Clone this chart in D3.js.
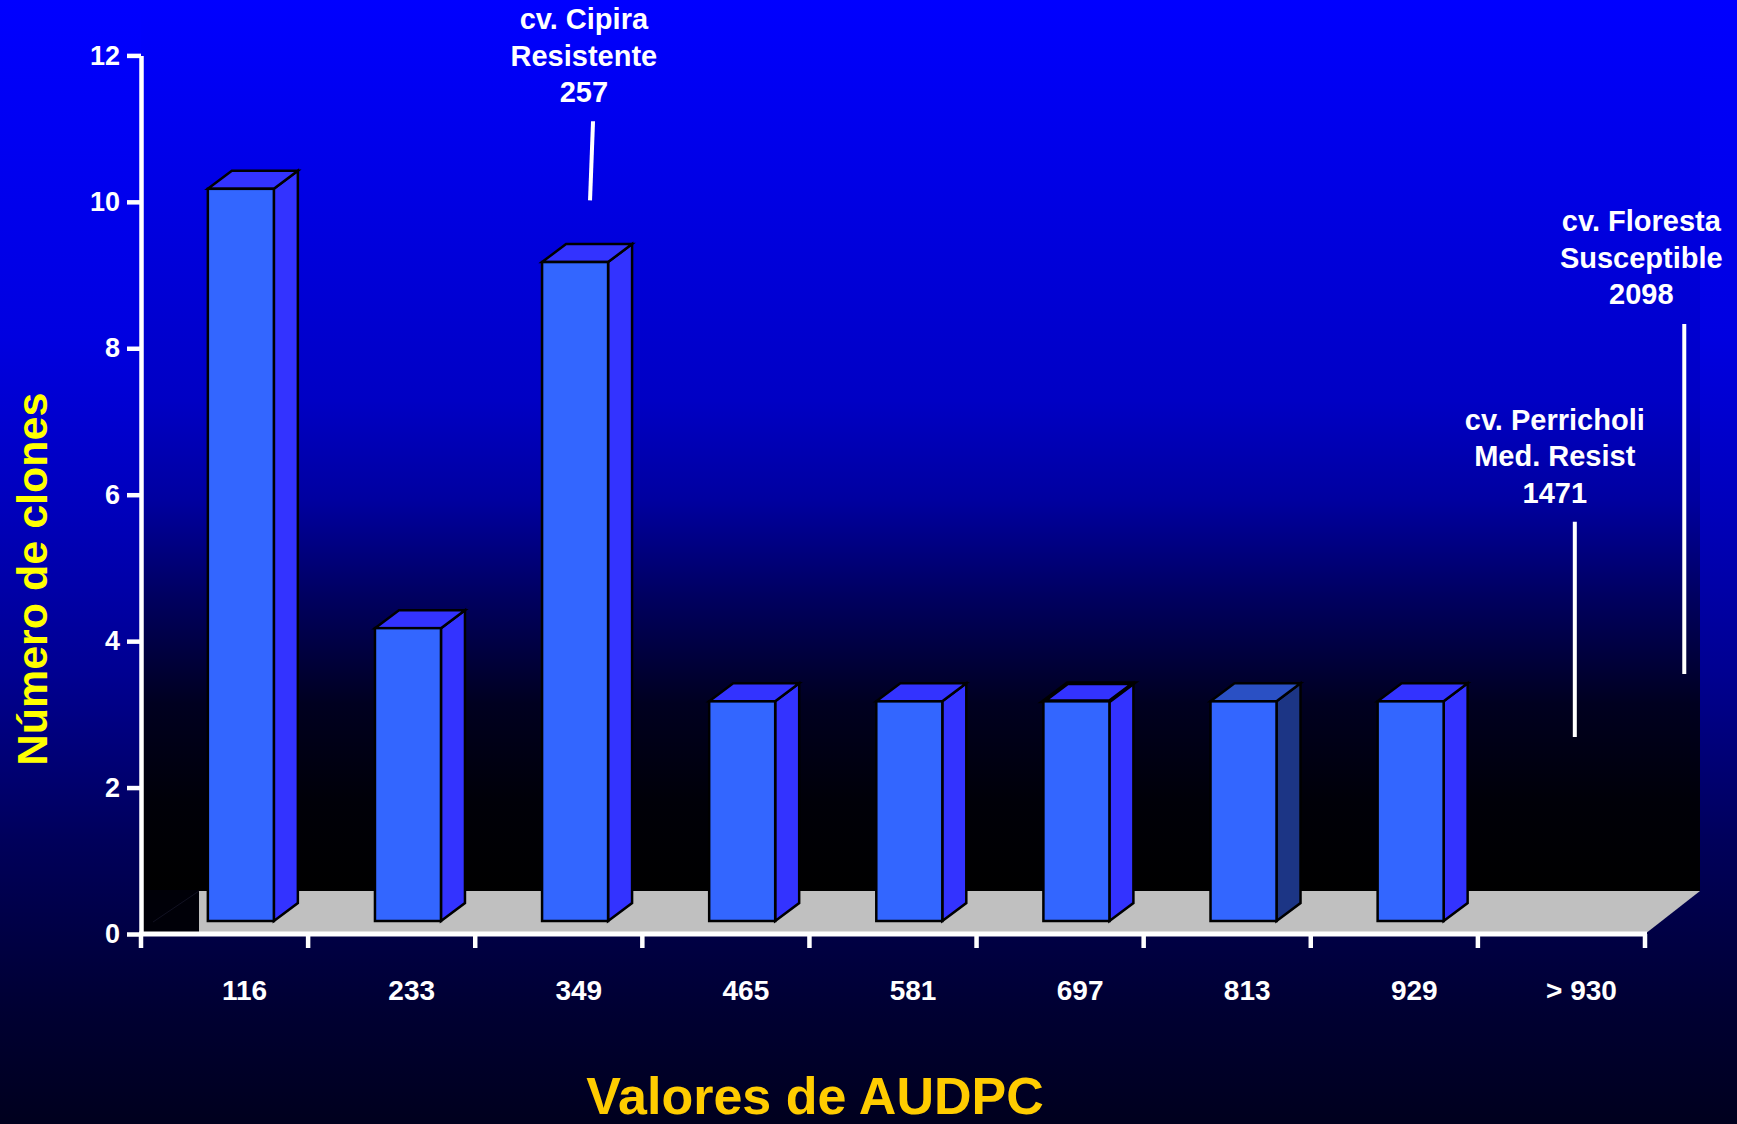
<!DOCTYPE html>
<html>
<head>
<meta charset="utf-8">
<script src="https://cdn.jsdelivr.net/npm/d3@7"></script>
<style>
  html, body { margin: 0; padding: 0; background: #000030; }
  svg { display: block; }
  text { font-family: "Liberation Sans", Arial, sans-serif; font-weight: bold; }
</style>
</head>
<body>
<svg id="chart" width="1737" height="1124"></svg>
<script>
// ---- data ----
const categories = ["116", "233", "349", "465", "581", "697", "813", "929", "> 930"];
const clones = [10, 4, 9, 3, 3, 3, 3, 3, 0];
const yTicks = [0, 2, 4, 6, 8, 10, 12];
const yTitle = "Número de clones";
const xTitle = "Valores de AUDPC";
// annotations: anchored on a category band (fraction of band) and value units
const annotLines = [
  ["cv. Cipira", "Resistente", "257"],
  ["cv. Perricholi", "Med. Resist", "1471"],
  ["cv. Floresta", "Susceptible", "2098"]
];
const annotCat = ["349", "> 930", "> 930"];
const annotTextFrac = [0.65, 0.46, 0.978];
const annotTextVal = [11.36, 5.89, 8.60];
const annotLineFracTop = [0.705, 0.58, 1.235];
const annotLineFracBot = [0.687, 0.58, 1.235];
const annotLineTop = [11.10, 5.63, 8.33];
const annotLineBot = [10.02, 2.69, 3.55];

// ---- layout ----
const W = 1737, H = 1124;
const svg = d3.select("#chart");
const x = d3.scaleBand().domain(categories).range([141, 1645]).paddingInner(0).paddingOuter(0);
const y = d3.scaleLinear().domain([0, 12]).range([934, 55.4]);
const bw = x.step();
const depthX = 24, depthY = -18;           // bar depth
const floorDX = 55, floorDY = -43;          // floor depth
const barLift = 13;                          // bars sit on floor, slightly behind axis

const defs = svg.append("defs");
const bg = defs.append("linearGradient").attr("id", "bg")
  .attr("gradientUnits", "userSpaceOnUse").attr("x1", 0).attr("y1", 0).attr("x2", 0).attr("y2", H);
[[0, "#0000ff"], [0.3, "#0000e0"], [0.45, "#0000bc"], [0.6, "#000090"], [0.75, "#00005a"], [0.9, "#000032"], [1, "#00001e"]]
  .forEach(s => bg.append("stop").attr("offset", s[0]).attr("stop-color", s[1]));
const wall = defs.append("linearGradient").attr("id", "wall")
  .attr("gradientUnits", "userSpaceOnUse").attr("x1", 0).attr("y1", 0).attr("x2", 0).attr("y2", y(0) + floorDY);
[[0, "#0000ff"], [0.2, "#0000e6"], [0.45, "#0000c4"], [0.56, "#0000a0"], [0.67, "#000060"], [0.79, "#000020"], [0.9, "#000008"], [1, "#000000"]]
  .forEach(s => wall.append("stop").attr("offset", s[0]).attr("stop-color", s[1]));

// background
svg.append("rect").attr("width", W).attr("height", H).attr("fill", "url(#bg)");

const x0 = x.range()[0], x1 = x.range()[1];
const floorBack = y(0) + floorDY;
const floorLeft = x0 + 58;

// back wall
svg.append("rect").attr("x", x0).attr("y", 0)
  .attr("width", x1 + floorDX - x0).attr("height", floorBack).attr("fill", "url(#wall)");
// dark left strip below the floor's back edge
svg.append("rect").attr("x", x0).attr("y", floorBack - 1)
  .attr("width", floorLeft - x0).attr("height", y(0) - floorBack + 1).attr("fill", "#000008");
svg.append("line").attr("x1", x0 + 12).attr("y1", y(0) - 12).attr("x2", floorLeft).attr("y2", floorBack)
  .attr("stroke", "#111122").attr("stroke-width", 1);

// floor
svg.append("path")
  .attr("d", `M${floorLeft},${floorBack} L${x1 + floorDX},${floorBack} L${x1},${y(0)} L${floorLeft},${y(0)} Z`)
  .attr("fill", "#c0c0c0");

// bars
const bars = svg.append("g");
categories.forEach((c, i) => {
  const v = clones[i];
  if (!v) return;
  const bx0 = x(c) + 0.40 * bw, bx1 = bx0 + 0.395 * bw;
  const yt = y(v) - barLift, yb = y(0) - barLift;
  const alt = i === 6;
  const g = bars.append("g").attr("stroke", "#000").attr("stroke-width", 2.5).attr("stroke-linejoin", "miter");
  g.append("path")
    .attr("d", `M${bx1},${yt} L${bx1 + depthX},${yt + depthY} L${bx1 + depthX},${yb + depthY} L${bx1},${yb} Z`)
    .attr("fill", alt ? "#1c3585" : "#3333ff");
  g.append("path")
    .attr("d", `M${bx0},${yt} L${bx0 + depthX},${yt + depthY} L${bx1 + depthX},${yt + depthY} L${bx1},${yt} Z`)
    .attr("fill", alt ? "#2a50c4" : "#3333ff")
    .attr("stroke-width", i === 5 ? 4 : 2.5);
  g.append("rect").attr("x", bx0).attr("y", yt).attr("width", bx1 - bx0).attr("height", yb - yt)
    .attr("fill", "#3366ff");
});

// y axis
const yAxis = svg.append("g").attr("transform", `translate(${x0},0)`)
  .call(d3.axisLeft(y).tickValues(yTicks).tickFormat(d3.format("d")).tickSize(14).tickSizeOuter(0).tickPadding(7));
yAxis.select(".domain").attr("stroke", "#fff").attr("stroke-width", 4.5);
yAxis.selectAll(".tick line").attr("stroke", "#fff").attr("stroke-width", 4.5);
yAxis.selectAll(".tick text").attr("fill", "#fff").style("font-size", "27px")
  .style("font-family", '"Liberation Sans", Arial, sans-serif').style("font-weight", "bold");

// x axis line + boundary ticks
svg.append("line").attr("x1", x0 - 2).attr("x2", x1 + 2).attr("y1", y(0)).attr("y2", y(0))
  .attr("stroke", "#fff").attr("stroke-width", 5);
svg.append("g").selectAll("line").data(d3.range(categories.length + 1)).join("line")
  .attr("x1", i => x0 + i * bw).attr("x2", i => x0 + i * bw)
  .attr("y1", y(0)).attr("y2", y(0) + 14)
  .attr("stroke", "#fff").attr("stroke-width", 4.5);

// x tick labels
const xAxis = svg.append("g").attr("transform", `translate(0,${y(0)})`)
  .call(d3.axisBottom(x).tickSize(0).tickPadding(46));
xAxis.select(".domain").remove();
xAxis.selectAll(".tick text").attr("fill", "#fff").attr("dx", 20).attr("dy", 0)
  .style("font-size", "28px").style("font-family", '"Liberation Sans", Arial, sans-serif').style("font-weight", "bold")
  .attr("y", 66);

// annotations
const ann = svg.append("g");
annotLines.forEach((lines, i) => {
  const cx = x(annotCat[i]) + annotTextFrac[i] * bw;
  const lastBase = y(annotTextVal[i]);
  const t = ann.append("text").attr("text-anchor", "middle").attr("fill", "#fff").style("font-size", "29px");
  lines.forEach((s, k) => {
    t.append("tspan").attr("x", cx).attr("y", lastBase - (lines.length - 1 - k) * 36.5).text(s);
  });
  ann.append("line")
    .attr("x1", x(annotCat[i]) + annotLineFracTop[i] * bw).attr("y1", y(annotLineTop[i]))
    .attr("x2", x(annotCat[i]) + annotLineFracBot[i] * bw).attr("y2", y(annotLineBot[i]))
    .attr("stroke", "#fff").attr("stroke-width", 4);
});

// axis titles
svg.append("text").attr("transform", `translate(47,579) rotate(-90)`).attr("text-anchor", "middle")
  .attr("fill", "#ffff00").style("font-size", "43px").text(yTitle);
svg.append("text").attr("x", 815).attr("y", 1114).attr("text-anchor", "middle")
  .attr("fill", "#ffcc00").style("font-size", "52px").text(xTitle);
</script>
</body>
</html>
